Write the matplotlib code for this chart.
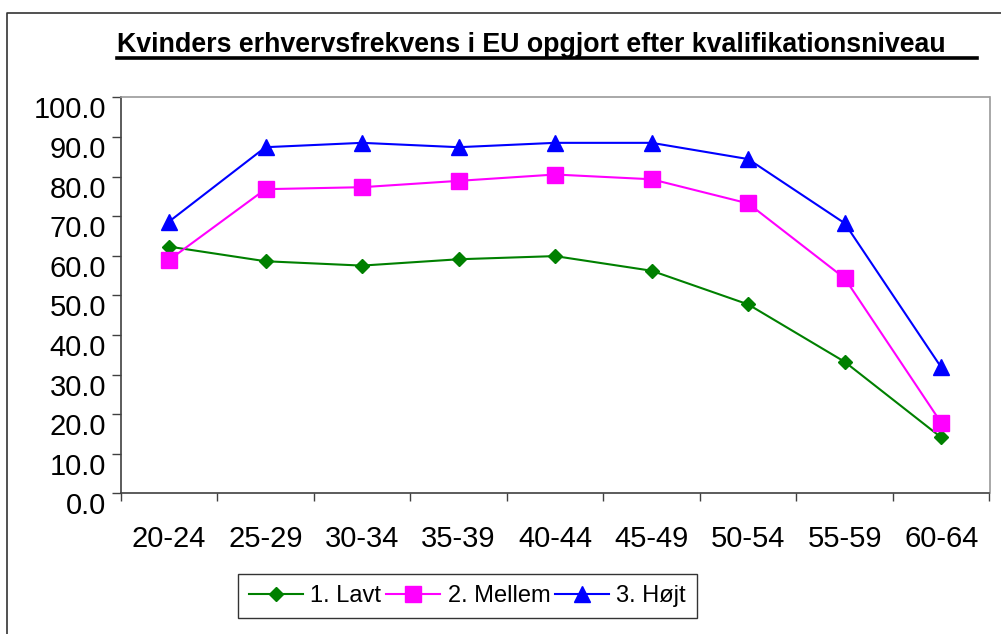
import matplotlib
matplotlib.use("Agg")
import matplotlib.pyplot as plt
from matplotlib.lines import Line2D
from matplotlib.transforms import ScaledTranslation
from matplotlib import font_manager

categories = ["20-24", "25-29", "30-34", "35-39", "40-44", "45-49", "50-54", "55-59", "60-64"]
lavt = [62.3, 58.6, 57.5, 59.1, 59.9, 56.2, 47.7, 33.2, 14.1]
mellem = [58.9, 76.8, 77.3, 78.9, 80.5, 79.3, 73.2, 54.3, 17.8]
hojt = [68.6, 87.4, 88.5, 87.4, 88.5, 88.5, 84.4, 68.2, 31.8]
series_names = ["1. Lavt", "2. Mellem", "3. Højt"]
yticks = [0, 10, 20, 30, 40, 50, 60, 70, 80, 90, 100]
title = "Kvinders erhvervsfrekvens i EU opgjort efter kvalifikationsniveau"

names = {f.name for f in font_manager.fontManager.ttflist}
regular = "Liberation Sans" if "Liberation Sans" in names else "DejaVu Sans"

W, H = 1001, 634
fig = plt.figure(figsize=(W / 100, H / 100), dpi=100)

def fx(px):
    return px / W

def fy(py):
    return 1 - py / H

ax = fig.add_axes([fx(120.7), fy(493.3), fx(989.5) - fx(120.7), fy(97.3) - fy(493.3)])

x = list(range(len(categories)))
l1, = ax.plot(x, lavt, color="#008000", lw=1.5, marker="D", markersize=7.5, label=series_names[0], clip_on=False)
l2, = ax.plot(x, mellem, color="#FF00FF", lw=1.5, marker="s", markersize=11, label=series_names[1], clip_on=False)
l3, = ax.plot(x, hojt, color="#0000FF", lw=1.5, marker="^", markersize=11.5, label=series_names[2], clip_on=False)

ax.set_xlim(-0.5, len(categories) - 0.5)
ax.set_ylim(0, 100)
ax.set_yticks(yticks)
ax.set_yticklabels([f"{v:.1f}" for v in yticks], fontfamily=regular, fontsize=21)
ax.set_xticks([i - 0.5 for i in range(len(categories) + 1)])
ax.set_xticklabels([])
ax.set_xticks(x, minor=True)
ax.set_xticklabels(categories, minor=True, fontfamily=regular, fontsize=21)
ax.tick_params(axis="x", which="major", direction="out", length=6, width=1, color="#404040")
ax.tick_params(axis="x", which="minor", length=0, pad=23)
ax.tick_params(axis="y", direction="out", length=6.5, width=1, color="#404040", pad=4)

for lab in ax.get_yticklabels():
    lab.set_transform(lab.get_transform() + ScaledTranslation(0, -10 / 100, fig.dpi_scale_trans))

for side in ["left", "bottom"]:
    ax.spines[side].set_color("#404040")
    ax.spines[side].set_linewidth(1.2)
for side in ["top", "right"]:
    ax.spines[side].set_color("#999999")
    ax.spines[side].set_linewidth(1.2)

# title with underline
fig.text(fx(117), fy(52.5), title, fontfamily=regular, fontweight="bold", fontsize=19.3,
         ha="left", va="baseline")
fig.add_artist(Line2D([fx(117), fx(977)], [fy(57.5), fy(57.5)], color="black", lw=2.6,
                      transform=fig.transFigure))

# outer chart border (left and top)
fig.add_artist(Line2D([fx(7), fx(7), fx(1001)], [fy(634), fy(13), fy(13)], color="#333333", lw=1.2,
                      transform=fig.transFigure))

leg = fig.legend(handles=[l1, l2, l3], loc="center", bbox_to_anchor=(fx(467.5), fy(596)), ncol=3,
                 frameon=True, fancybox=False, shadow=False, handlelength=2.3, handletextpad=0.3,
                 columnspacing=0.2, borderpad=0.45, prop={"family": regular, "size": 17})
leg.get_frame().set_edgecolor("black")
leg.get_frame().set_linewidth(1.0)

fig.savefig("out.png", dpi=100)
